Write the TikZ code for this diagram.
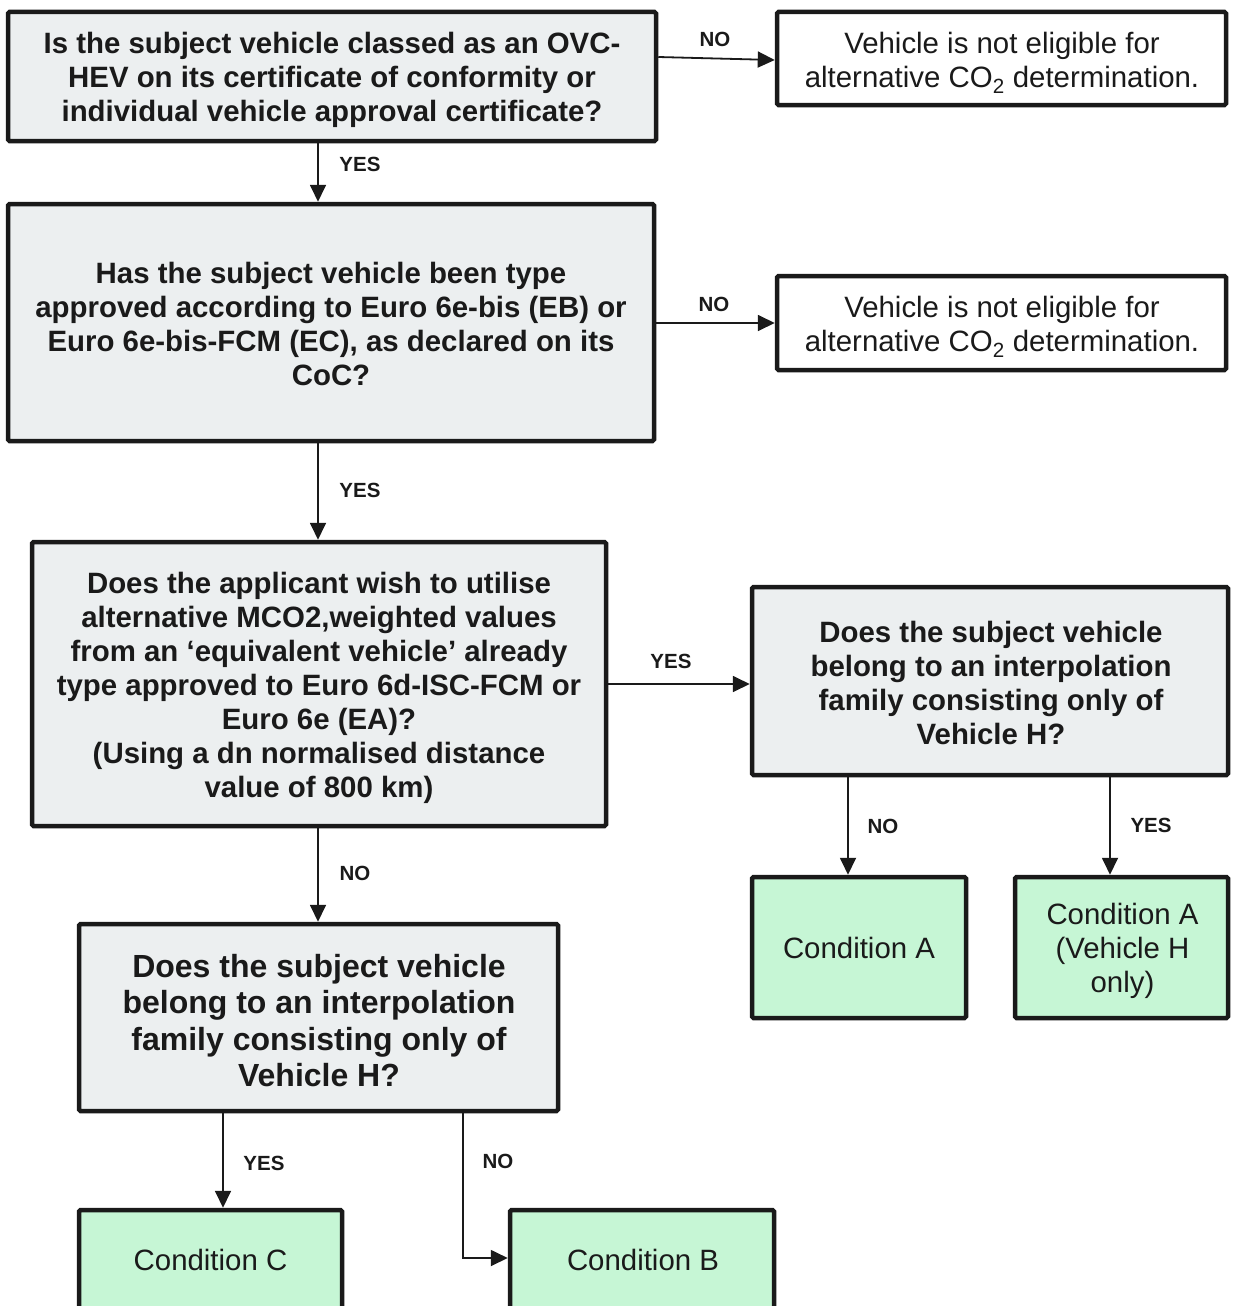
\documentclass[tikz,border=0pt]{standalone}
\usepackage{fontspec}
\setmainfont{Liberation Sans}
\usetikzlibrary{arrows.meta}
\definecolor{qfill}{RGB}{236,239,240}
\definecolor{gfill}{RGB}{198,246,213}
\definecolor{ink}{RGB}{26,26,26}
\tikzset{
  box/.style={draw=ink, line width=4.5pt, rounded corners=1.5pt, inner sep=0pt},
  qbox/.style={box, fill=qfill},
  wbox/.style={box, fill=white},
  gbox/.style={box, fill=gfill},
  txt/.style={align=center, text=ink, inner sep=0pt},
  qtxt/.style={txt, font=\bfseries\fontsize{29.4}{34}\selectfont},
  qtxtbig/.style={txt, font=\bfseries\fontsize{32}{36.5}\selectfont},
  ntxt/.style={txt, font=\fontsize{29.4}{34}\selectfont},
  lbl/.style={text=ink, font=\bfseries\fontsize{20.5}{24}\selectfont, inner sep=0pt},
  conn/.style={draw=ink, line width=1.8pt, -{Triangle[length=17pt,width=16pt]}}
}
\begin{document}
\begin{tikzpicture}[x=1pt,y=-1pt]
\clip (0,0) rectangle (1232,1306);
\fill[white] (0,0) rectangle (1232,1306);

\node[qbox, minimum width=648pt, minimum height=129pt] (b1) at (332,76.5) {};
\node[qtxt] (t1) at (332,79.5)
  {Is the subject vehicle classed as an OVC-\\HEV on its certificate of conformity or\\individual vehicle approval certificate?};
\node[wbox, minimum width=449pt, minimum height=93pt] (r1) at (1001.5,58.5) {};
\node[ntxt] (t2) at (1002,62.5)
  {Vehicle is not eligible for\\alternative CO\textsubscript{2} determination.};
\node[qbox, minimum width=646pt, minimum height=237pt] (b2) at (331,322.5) {};
\node[qtxt] (t3) at (331,323.5)
  {Has the subject vehicle been type\\approved according to Euro 6e-bis (EB) or\\Euro 6e-bis-FCM (EC), as declared on its\\CoC?};
\node[wbox, minimum width=449pt, minimum height=94pt] (r2) at (1001.5,323) {};
\node[ntxt] (t4) at (1002,327)
  {Vehicle is not eligible for\\alternative CO\textsubscript{2} determination.};
\node[qbox, minimum width=574pt, minimum height=284pt] (b3) at (319,684) {};
\node[qtxt] (t5) at (319,687.5)
  {Does the applicant wish to utilise\\alternative MCO2,weighted values\\from an ‘equivalent vehicle’ already\\type approved to Euro 6d-ISC-FCM or\\Euro 6e (EA)?\\(Using a dn normalised distance\\value of 800 km)};
\node[qbox, minimum width=476pt, minimum height=188pt] (b4) at (990,681) {};
\node[qtxt] (t6) at (991,683)
  {Does the subject vehicle\\belong to an interpolation\\family consisting only of\\Vehicle H?};
\node[gbox, minimum width=214pt, minimum height=141pt] (cA) at (859,947.5) {};
\node[ntxt] (t7) at (859,947.5) {Condition A};
\node[gbox, minimum width=213pt, minimum height=141pt] (cAH) at (1121.5,947.5) {};
\node[ntxt] (t8) at (1122.5,950.5) {Condition A\\(Vehicle H\\only)};
\node[qbox, minimum width=479pt, minimum height=187pt] (b5) at (318.5,1017.5) {};
\node[qtxtbig] (t9) at (319,1020.5)
  {Does the subject vehicle\\belong to an interpolation\\family consisting only of\\Vehicle H?};
\node[gbox, minimum width=263pt, minimum height=102pt] (cC) at (210.5,1261) {};
\node[ntxt] (t10) at (210.5,1260) {Condition C};
\node[gbox, minimum width=264pt, minimum height=102pt] (cB) at (642,1261) {};
\node[ntxt] (t11) at (643,1259.5) {Condition B};

\coordinate (y57) at (0,57);
\coordinate (y60) at (0,60);
\coordinate (x318) at (318,0);
\coordinate (x848) at (848,0);
\coordinate (x1110) at (1110,0);
\coordinate (x223) at (223,0);
\coordinate (x463) at (463,0);

\draw[conn] (b1.east |- y57) -- (r1.west |- y60);
\draw[conn] (b1.south -| x318) -- (b2.north -| x318);
\draw[conn] (b2.east |- r2.west) -- (r2.west);
\draw[conn] (b2.south -| x318) -- (b3.north -| x318);
\draw[conn] (b3.east) -- (b4.west |- b3.east);
\draw[conn] (b3.south -| x318) -- (b5.north -| x318);
\draw[conn] (b4.south -| x848) -- (cA.north -| x848);
\draw[conn] (b4.south -| x1110) -- (cAH.north -| x1110);
\draw[conn] (b5.south -| x223) -- (cC.north -| x223);
\draw[conn] (b5.south -| x463) |- ([yshift=3pt]cB.west);

\node[lbl] (l1) at (715,39) {NO};
\node[lbl] (l2) at (360,164) {YES};
\node[lbl] (l3) at (714,304) {NO};
\node[lbl] (l4) at (360,490) {YES};
\node[lbl] (l5) at (671,661) {YES};
\node[lbl] (l6) at (355,873) {NO};
\node[lbl] (l7) at (883,826) {NO};
\node[lbl] (l8) at (1151,825) {YES};
\node[lbl] (l9) at (264,1163) {YES};
\node[lbl] (l10) at (498,1161) {NO};
\end{tikzpicture}
\end{document}
